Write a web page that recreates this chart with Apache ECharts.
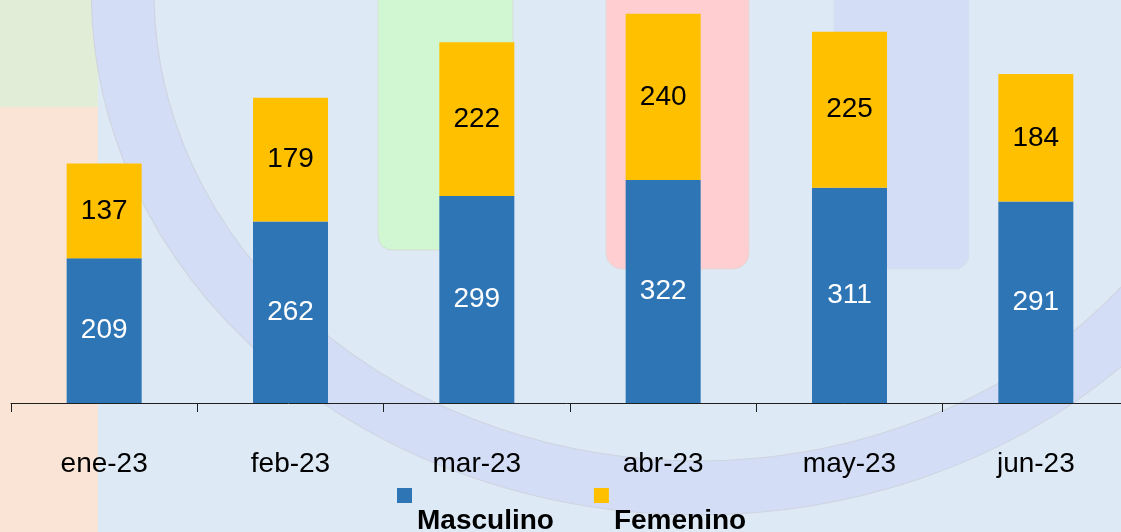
<!DOCTYPE html>
<html>
<head>
<meta charset="utf-8">
<script src="https://cdn.jsdelivr.net/npm/echarts@6/dist/echarts.min.js"></script>
<style>
  html, body { margin: 0; padding: 0; background: #dee9f6; }
  #chart { width: 1121px; height: 532px; }
</style>
</head>
<body>
<div id="chart"></div>
<script>
// datos
const meses = ['ene-23', 'feb-23', 'mar-23', 'abr-23', 'may-23', 'jun-23'];
const masculino = [209, 262, 299, 322, 311, 291];
const femenino = [137, 179, 222, 240, 225, 184];

const chart = echarts.init(document.getElementById('chart'));

const font = 'Liberation Sans, Arial, sans-serif';

// fondo decorativo
const fondo = [
  { type: 'rect', shape: { x: 0, y: 0, width: 98, height: 107 }, style: { fill: '#e2edd8' }, z: -10 },
  { type: 'rect', shape: { x: 0, y: 107, width: 98, height: 425 }, style: { fill: '#fae4d6' }, z: -10 },
  { type: 'rect', shape: { x: 378, y: -20, width: 135, height: 270, r: 14 }, style: { fill: '#d0f6d2', stroke: '#d6ddd6', lineWidth: 1 }, z: -10 },
  { type: 'rect', shape: { x: 606, y: -20, width: 143, height: 289, r: 16 }, style: { fill: '#ffced0', stroke: '#e6d6d8', lineWidth: 1 }, z: -10 },
  { type: 'rect', shape: { x: 834, y: -20, width: 135, height: 289, r: 14 }, style: { fill: '#d3ddf6', stroke: '#d9dfec', lineWidth: 1 }, z: -10 },
  {
    type: 'ring',
    x: 698, y: -8, scaleX: 1.16,
    shape: { cx: 0, cy: 0, r: 523, r0: 469 },
    style: { fill: '#d3ddf6', stroke: '#cfd4e0', lineWidth: 1 },
    z: -10
  }
];

chart.setOption({
  backgroundColor: '#dee9f6',
  animation: false,
  graphic: fondo,
  grid: { left: 11, right: -8, top: 0, bottom: 129, outerBoundsMode: 'none' },
  legend: {
    left: 392,
    top: 483,
    icon: 'rect',
    itemWidth: 15,
    itemHeight: 15,
    itemGap: 40,
    formatter: '{t|{name}}',
    textStyle: {
      rich: {
        t: { fontFamily: font, fontSize: 28, fontWeight: 'bold', color: '#000', padding: [52, 0, 0, 0] }
      }
    },
    data: ['Masculino', 'Femenino']
  },
  xAxis: {
    type: 'category',
    data: meses,
    axisLine: { lineStyle: { color: '#1f1f1f', width: 1 } },
    axisTick: { show: true, length: 9, lineStyle: { color: '#1f1f1f' } },
    axisLabel: { color: '#000', fontFamily: font, fontSize: 28, margin: 47 }
  },
  yAxis: {
    type: 'value',
    min: 0,
    max: 582,
    show: false,
    splitLine: { show: false }
  },
  series: [
    {
      name: 'Masculino',
      type: 'bar',
      stack: 'total',
      barWidth: 75,
      data: masculino,
      itemStyle: { color: '#2e75b6' },
      label: { show: true, position: 'inside', color: '#fff', fontFamily: font, fontSize: 28 }
    },
    {
      name: 'Femenino',
      type: 'bar',
      stack: 'total',
      barWidth: 75,
      data: femenino,
      itemStyle: { color: '#ffc000' },
      label: { show: true, position: 'inside', color: '#000', fontFamily: font, fontSize: 28 }
    }
  ]
});
</script>
</body>
</html>
